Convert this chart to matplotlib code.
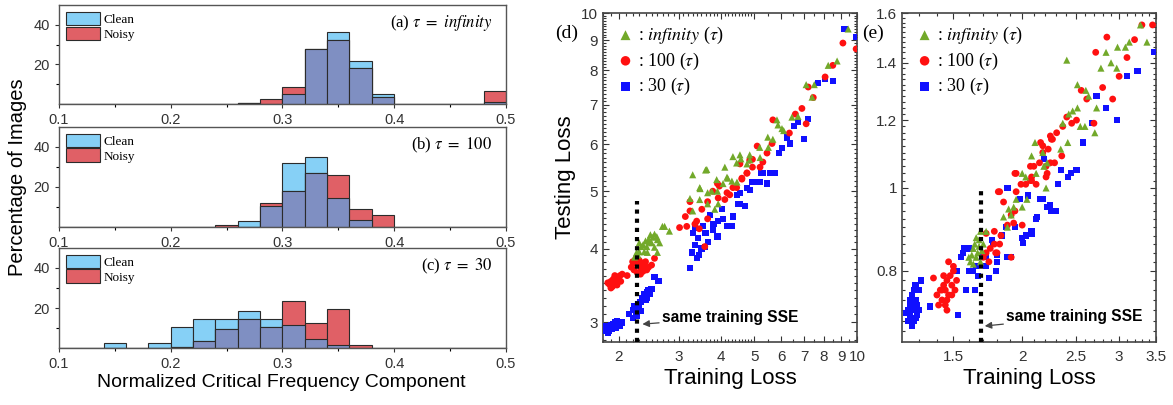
import numpy as np
import matplotlib
matplotlib.use('Agg')
import matplotlib.pyplot as plt
from matplotlib.patches import Patch
from matplotlib.ticker import FixedLocator, NullFormatter

plt.rcParams['font.family'] = 'Liberation Sans'
plt.rcParams['mathtext.fontset'] = 'stix'

clean_col = '#86d0f6'
noisy_col = '#e06066'
overlap_col = '#7f8fc2'
edge_col = '#2b2b2b'
green = '#72a92a'
red = '#ff1010'
blue = '#1010ff'

# histogram data: bins of width 0.02 from 0.1 to 0.5 (percentage of images)
bin_left = np.round(np.arange(0.1, 0.5, 0.02), 2)
hist_titles = [r'(a) $\tau\ =\ infinity$', r'(b) $\tau\ =\ 100$', r'(c) $\tau\ =\ 30$']
clean_a = [0, 0, 0, 0, 0, 0, 0, 0, 0.5, 0, 5.3, 28, 36.4, 22, 5.3, 0, 0, 0, 0, 1]
noisy_a = [0, 0, 0, 0, 0, 0, 0, 0, 0.5, 2.6, 8.5, 28, 32.5, 18, 3.6, 0, 0, 0, 0, 6.5]
clean_b = [0, 0, 0, 0, 0, 0, 0, 0, 3, 10.5, 32, 35, 14.7, 3.7, 0, 0, 0, 0, 0, 0]
noisy_b = [0, 0, 0, 0, 0, 0, 0, 0.8, 0, 12, 18, 27, 26, 8.8, 5.9, 0, 0, 0, 0, 0]
clean_c = [0, 0, 2.5, 0, 2.5, 10.5, 14.3, 14.3, 18.5, 14.3, 11.3, 4.3, 1.3, 0, 0, 0, 0, 0, 0, 0]
noisy_c = [0, 0, 0, 0, 0, 0.5, 3.5, 9.3, 14.3, 10.5, 23.5, 12.7, 19.3, 1.3, 0, 0, 0, 0, 0, 0]

# scatter (d): training vs testing loss
d_inf_x = [2.73, 2.55, 2.60, 2.47, 2.42, 2.33, 2.38, 2.30, 2.43, 2.26, 2.50, 2.60, 2.64, 2.59, 2.30,
           2.23, 2.69, 2.82, 2.45, 2.52, 2.36, 2.55, 2.28, 2.40, 2.48,
           3.24, 3.30, 3.60, 4.10, 3.47, 3.65, 3.90, 4.05, 4.18, 4.45, 3.46, 3.65, 3.30, 3.83, 3.92,
           4.44, 4.76, 4.85, 5.20, 4.54, 4.33, 4.57, 4.85, 3.63, 4.16, 3.88, 4.30, 3.46, 3.75, 5.19,
           5.50, 5.48, 5.67, 5.83, 5.87, 6.03, 6.10, 6.45, 6.72, 7.39, 7.10, 7.50, 8.24, 8.75, 9.43]
d_inf_y = [4.36, 4.23, 4.14, 4.10, 4.03, 4.03, 3.95, 3.95, 3.94, 3.94, 4.09, 3.94, 4.09, 4.19, 4.09,
           3.87, 4.36, 4.28, 4.15, 4.18, 4.06, 4.02, 3.90, 4.12, 4.22,
           4.86, 5.33, 5.43, 5.49, 5.05, 4.97, 5.00, 5.15, 5.26, 5.18, 4.84, 4.76, 4.63, 4.66, 4.76,
           5.58, 5.56, 5.76, 5.70, 5.76, 5.72, 5.67, 5.65, 5.44, 5.28, 5.23, 5.20, 5.07, 5.00, 5.93,
           5.93, 6.17, 6.12, 6.60, 6.47, 6.38, 6.33, 6.67, 6.69, 7.21, 7.57, 7.57, 8.16, 8.30, 9.40]
d_100_x = [1.88, 1.90, 1.93, 1.95, 1.97, 2.00, 2.02, 1.92, 1.98, 2.05, 1.90, 2.03, 1.86, 1.95,
           2.12, 2.20, 2.25, 2.28, 2.30, 2.33, 2.35, 2.38, 2.40, 2.45, 2.50, 2.22, 2.27, 2.32, 2.42,
           2.55, 2.18, 2.24, 2.36,
           3.02, 3.14, 3.24, 3.24, 3.39, 3.51, 3.65, 3.65, 3.92, 3.90, 4.10, 4.24, 4.33, 4.60, 4.76,
           4.94, 5.10, 5.30, 4.85, 4.44, 3.58, 3.17, 9.10, 9.95, 8.50, 8.07, 7.20, 7.45, 6.90, 6.60,
           5.67, 7.10, 6.34, 5.64, 5.45, 4.94, 4.54, 5.20, 4.76, 4.60, 3.95, 3.78, 4.16, 3.35, 3.45]
d_100_y = [3.48, 3.52, 3.55, 3.50, 3.58, 3.55, 3.60, 3.45, 3.47, 3.62, 3.43, 3.52, 3.50, 3.60,
           3.60, 3.80, 3.85, 3.75, 3.82, 3.70, 3.78, 3.73, 3.80, 3.72, 3.75, 3.68, 3.64, 3.62, 3.68,
           3.85, 3.72, 3.78, 3.66,
           4.34, 4.53, 4.80, 4.63, 4.45, 4.66, 4.49, 4.80, 4.87, 5.15, 4.84, 4.93, 5.07, 5.24, 5.37,
           5.49, 5.96, 5.60, 5.64, 5.07, 4.03, 4.36, 8.90, 8.70, 8.16, 7.80, 7.50, 7.20, 6.90, 6.75,
           6.60, 6.50, 6.27, 6.02, 5.80, 5.66, 5.56, 5.49, 5.36, 5.26, 5.10, 5.00, 4.97, 4.40, 4.32]
d_30_x = [1.82, 1.85, 1.87, 1.90, 1.93, 1.95, 1.98, 2.00, 2.02, 1.88, 1.91, 1.84, 2.05, 1.96, 1.86,
          1.83, 1.92,
          2.15, 2.20, 2.22, 2.25, 2.28, 2.30, 2.32, 2.35, 2.38, 2.40, 2.42, 2.45, 2.48, 2.50, 2.55,
          2.62, 2.20, 2.27, 2.33, 2.43,
          3.24, 3.28, 3.39, 3.35, 3.42, 3.35, 3.53, 3.71, 3.78, 3.90, 3.65, 3.92, 4.05, 4.16, 4.30,
          4.02, 4.33, 4.48, 4.70, 4.44, 4.76, 4.94, 5.30, 3.58, 3.30, 4.54, 3.50, 3.60, 3.80, 3.45,
          9.20, 9.95, 8.50, 8.07, 7.70, 7.20, 6.72, 6.55, 7.00, 6.37, 6.24, 6.03, 5.92, 5.76, 5.55,
          5.25, 5.45, 5.20, 5.00, 4.85, 4.54]
d_30_y = [2.90, 2.93, 2.95, 2.97, 2.98, 3.00, 3.01, 2.98, 2.96, 2.90, 2.92, 2.96, 3.00, 2.94, 2.88,
          2.93, 2.95,
          3.10, 3.15, 3.20, 3.12, 3.22, 3.18, 3.25, 3.30, 3.35, 3.28, 3.38, 3.40, 3.35, 3.42, 3.58,
          3.52, 3.05, 3.08, 3.14, 3.30,
          3.71, 3.94, 3.86, 4.06, 4.17, 4.33, 4.36, 4.56, 4.30, 4.19, 4.10, 4.45, 4.49, 4.36, 4.36,
          4.66, 4.53, 4.76, 4.72, 4.93, 5.07, 5.18, 5.36, 4.02, 4.25, 4.76, 4.00, 4.25, 4.40, 3.90,
          9.40, 9.10, 7.67, 7.74, 7.62, 6.62, 6.55, 6.45, 6.12, 6.02, 6.16, 5.91, 5.80, 5.36, 5.36,
          5.36, 5.15, 5.18, 5.18, 5.03, 4.97]

# scatter (e)
e_inf_x = [3.28, 3.37, 3.13, 3.08, 2.98, 2.41, 2.84, 2.90, 2.78, 2.97, 2.52, 2.61, 2.64, 2.73, 2.52,
           2.47, 2.43, 2.37, 2.55, 2.60, 2.71, 2.42, 2.35, 2.11, 2.18, 2.22, 2.08, 2.12, 2.19, 2.03,
           2.00, 2.21, 1.95, 2.00, 1.89, 1.91, 1.88, 1.72, 1.68, 1.65, 1.67, 1.63, 1.62, 1.65, 1.60,
           1.61, 1.69, 1.67, 1.85, 2.04, 1.66, 1.64, 1.70, 1.68, 1.63, 1.93]
e_inf_y = [1.55, 1.48, 1.48, 1.46, 1.46, 1.41, 1.44, 1.40, 1.38, 1.38, 1.32, 1.30, 1.28, 1.24, 1.24,
           1.23, 1.22, 1.19, 1.18, 1.18, 1.16, 1.13, 1.11, 1.13, 1.10, 1.07, 1.09, 1.04, 1.06, 1.03,
           1.04, 1.00, 0.97, 0.95, 0.945, 0.93, 0.90, 0.89, 0.89, 0.875, 0.855, 0.85, 0.835, 0.83, 0.83,
           0.82, 0.845, 0.87, 0.925, 0.97, 0.84, 0.86, 0.86, 0.82, 0.815, 0.95]
e_100_x = [1.40, 1.42, 1.43, 1.44, 1.45, 1.46, 1.47, 1.48, 1.49, 1.50, 1.46, 1.44, 1.52, 1.41, 1.47,
           1.43, 1.49, 1.45, 1.51, 1.46, 1.50, 1.38,
           1.70, 1.72, 1.74, 1.75, 1.78, 1.80, 1.72, 1.78, 1.79, 1.91, 1.82, 1.88, 1.93, 1.91, 1.94,
           1.85, 1.95, 2.03, 1.82, 2.08, 2.12, 2.10, 1.94, 2.22, 2.25, 2.18, 2.26, 2.00, 1.83,
           3.30, 3.45, 3.20, 2.85, 2.72, 3.10, 3.00, 2.92, 2.80, 2.56, 2.62, 2.70, 2.51, 2.46, 2.41,
           2.37, 2.31, 2.25, 2.27, 2.36, 2.29, 2.16, 2.18, 2.23, 2.21, 2.15, 2.21, 2.07, 2.08, 1.95,
           1.99, 2.07, 1.81]
e_100_y = [0.75, 0.76, 0.74, 0.77, 0.76, 0.78, 0.75, 0.79, 0.77, 0.80, 0.74, 0.79, 0.78, 0.73, 0.82,
           0.76, 0.75, 0.73, 0.76, 0.72, 0.81, 0.785,
           0.83, 0.84, 0.82, 0.85, 0.86, 0.84, 0.885, 0.89, 0.84, 0.83, 0.86, 0.905, 0.91, 0.93, 0.94,
           0.963, 0.99, 1.01, 0.99, 1.02, 1.01, 1.06, 1.04, 1.04, 1.07, 1.10, 1.14, 0.905, 0.88,
           1.55, 1.55, 1.49, 1.50, 1.44, 1.42, 1.35, 1.27, 1.31, 1.30, 1.27, 1.19, 1.20, 1.19, 1.21,
           1.18, 1.16, 1.15, 1.14, 1.09, 1.07, 1.13, 1.12, 1.11, 1.06, 1.07, 1.03, 1.06, 1.03, 1.04,
           1.01, 1.02, 0.99]
e_30_x = [1.24, 1.25, 1.26, 1.27, 1.28, 1.25, 1.27, 1.29, 1.26, 1.30, 1.30, 1.28, 1.24, 1.27, 1.31,
          1.29, 1.26, 1.36, 1.25, 1.23, 1.28,
          1.53, 1.58, 1.52, 1.55, 1.57, 1.63, 1.64, 1.66, 1.72, 1.74, 1.79, 1.72, 1.80, 1.88, 1.60,
          1.91, 2.00, 2.08, 2.12, 2.22, 2.26, 1.76, 1.84, 2.03, 1.88, 1.98, 2.05, 2.18, 2.25, 2.30,
          2.13, 2.08, 2.01, 1.94, 1.87, 1.77, 1.80, 1.69, 1.60, 1.56, 1.65,
          3.47, 3.24, 3.10, 2.84, 2.73, 2.97, 2.68, 2.58, 2.51, 2.45, 2.42, 2.35, 2.32, 2.19, 2.16]
e_30_y = [0.72, 0.71, 0.73, 0.72, 0.74, 0.74, 0.70, 0.71, 0.75, 0.72, 0.76, 0.77, 0.70, 0.76, 0.78,
          0.73, 0.69, 0.727, 0.73, 0.715, 0.705,
          0.71, 0.76, 0.80, 0.83, 0.85, 0.80, 0.76, 0.79, 0.81, 0.785, 0.80, 0.83, 0.82, 0.83, 0.80,
          0.83, 0.875, 0.885, 0.92, 0.95, 0.94, 0.87, 0.88, 0.88, 1.00, 0.97, 0.98, 0.97, 0.955, 0.94,
          0.925, 0.89, 0.862, 0.90, 0.90, 0.86, 0.835, 0.83, 0.85, 0.84, 0.81,
          1.44, 1.37, 1.35, 1.24, 1.28, 1.20, 1.19, 1.13, 1.05, 1.04, 1.03, 1.05, 1.01, 1.08, 0.97]

sse_d, sse_top_d = 2.26, 4.82
sse_e, sse_top_e = 1.68, 1.0

fig = plt.figure(figsize=(11.73, 4.05), dpi=100)

# ---------- histograms ----------
hist_pos = [[0.0503, 0.743, 0.381, 0.2444],
            [0.0503, 0.4395, 0.381, 0.247],
            [0.0503, 0.1407, 0.381, 0.247]]
hist_data = [(clean_a, noisy_a), (clean_b, noisy_b), (clean_c, noisy_c)]
for pos, (cl, no), title in zip(hist_pos, hist_data, hist_titles):
    ax = fig.add_axes(pos)
    cl = np.array(cl)
    no = np.array(no)
    kw = dict(width=0.02, align='edge', edgecolor=edge_col, linewidth=0.8)
    ax.bar(bin_left, cl, color=clean_col, **kw)
    ax.bar(bin_left, no, color=noisy_col, **kw)
    ax.bar(bin_left, np.minimum(cl, no), color=overlap_col, **kw)
    ax.set_xlim(0.1, 0.5)
    ax.set_ylim(0, 50)
    ax.set_xticks([0.1, 0.2, 0.3, 0.4, 0.5])
    ax.set_xticklabels(['0.1', '0.2', '0.3', '0.4', '0.5'])
    ax.xaxis.set_minor_locator(FixedLocator([0.15, 0.25, 0.35, 0.45]))
    ax.set_yticks([20, 40])
    ax.yaxis.set_minor_locator(FixedLocator([10, 30]))
    ax.tick_params(labelsize=10.5, colors='#333333', length=3, width=0.8)
    ax.tick_params(which='minor', length=2, width=0.8)
    for sp in ax.spines.values():
        sp.set_color('#555555')
        sp.set_linewidth(1.0)
    ax.text(0.97, 0.82, title, transform=ax.transAxes, ha='right', va='center',
            fontsize=12, family='Liberation Serif')
    handles = [Patch(facecolor=clean_col, edgecolor=edge_col, lw=0.8, label='Clean'),
               Patch(facecolor=noisy_col, edgecolor=edge_col, lw=0.8, label='Noisy')]
    ax.legend(handles=handles, loc='upper left', frameon=False,
              prop={'family': 'Liberation Serif', 'size': 9.5}, handlelength=2.6,
              handleheight=1.2, labelspacing=0.05, handletextpad=0.3,
              borderaxespad=0.2, borderpad=0.3)

fig.text(0.015, 0.563, 'Percentage of Images', rotation=90, ha='center', va='center', fontsize=14.5)
fig.text(0.24, 0.055, 'Normalized Critical Frequency Component', ha='center', va='center',
         fontsize=14)


# ---------- scatter panels ----------
def scatter_panel(pos, xs, ys, xlim, ylim, xticks, xlabels, yticks, ylabels,
                  xminor, yminor, sse, sse_top, arrow_xy, text_xy, tag, tag_x):
    ax = fig.add_axes(pos)
    ax.set_xscale('log')
    ax.set_yscale('log')
    (bx, by), (rx, ry), (gx, gy) = list(zip(xs, ys))
    ax.scatter(bx, by, marker='s', s=20, color=blue, edgecolors='none', label=r': 30 ($\tau$)', zorder=3)
    ax.scatter(rx, ry, marker='o', s=24, color=red, edgecolors='none', label=r': 100 ($\tau$)', zorder=3)
    ax.scatter(gx, gy, marker='^', s=26, color=green, edgecolors='none',
               label=r': $\mathit{infinity}$ ($\tau$)', zorder=4)
    ax.set_xlim(*xlim)
    ax.set_ylim(*ylim)
    ax.vlines(sse, ylim[0], sse_top, colors='k', linestyles=(0, (1, 1.2)), linewidth=3, zorder=5)
    ax.annotate('same training SSE', xy=arrow_xy, xytext=text_xy, fontsize=11.2,
                fontweight='bold', va='center', ha='left',
                arrowprops=dict(arrowstyle='-|>', color='#444444', lw=0.9,
                                mutation_scale=10, shrinkA=0, shrinkB=0), zorder=6)
    ax.xaxis.set_major_locator(FixedLocator(xticks))
    ax.xaxis.set_minor_locator(FixedLocator(xminor))
    ax.yaxis.set_major_locator(FixedLocator(yticks))
    ax.yaxis.set_minor_locator(FixedLocator(yminor))
    ax.set_xticklabels(xlabels)
    ax.set_yticklabels(ylabels)
    ax.xaxis.set_minor_formatter(NullFormatter())
    ax.yaxis.set_minor_formatter(NullFormatter())
    ax.tick_params(which='both', direction='in', top=True, right=True, colors='#333333',
                   labelsize=11, width=0.8)
    ax.tick_params(which='major', length=4)
    ax.tick_params(which='minor', length=2)
    ax.tick_params(axis='x', pad=6)
    for sp in ax.spines.values():
        sp.set_color('#444444')
        sp.set_linewidth(1.2)
    ax.set_xlabel('Training Loss', fontsize=16, labelpad=3)
    h, l = ax.get_legend_handles_labels()
    ax.legend(h[::-1], l[::-1], loc='upper left', frameon=False,
              prop={'family': 'Liberation Serif', 'size': 13}, handletextpad=0.1,
              handlelength=1.2, labelspacing=0.25, borderaxespad=0.45, borderpad=0.2,
              markerscale=1.4)
    fig.text(tag_x, 0.918, tag, fontsize=14, family='Liberation Serif', ha='center', va='center')
    return ax


axd = scatter_panel([0.514, 0.1556, 0.2165, 0.812],
                    [d_30_x, d_100_x, d_inf_x], [d_30_y, d_100_y, d_inf_y],
                    (1.8, 10), (2.78, 10),
                    [2, 3, 4, 5, 6, 7, 8, 9, 10], ['2', '3', '4', '5', '6', '7', '8', '9', '10'],
                    [3, 4, 5, 6, 7, 8, 9, 10], ['3', '4', '5', '6', '7', '8', '9', '10'],
                    list(np.arange(1.8, 5, 0.1)) + list(np.arange(5, 10, 0.5)),
                    list(np.arange(2.8, 10, 0.1)),
                    sse_d, sse_top_d, (2.35, 2.98), (2.68, 3.06), '(d)', 0.483)
axd.set_ylabel('Testing Loss', fontsize=16, labelpad=4)

axe = scatter_panel([0.769, 0.1556, 0.2165, 0.812],
                    [e_30_x, e_100_x, e_inf_x], [e_30_y, e_100_y, e_inf_y],
                    (1.21, 3.5), (0.661, 1.6),
                    [1.5, 2, 2.5, 3, 3.5], ['1.5', '2', '2.5', '3', '3.5'],
                    [0.8, 1.0, 1.2, 1.4, 1.6], ['0.8', '1', '1.2', '1.4', '1.6'],
                    list(np.arange(1.3, 3.5, 0.1)),
                    list(np.arange(0.68, 1.6, 0.02)),
                    sse_e, sse_top_e, (1.71, 0.69), (1.87, 0.707), '(e)', 0.744)

fig.savefig('out.png', dpi=100)
